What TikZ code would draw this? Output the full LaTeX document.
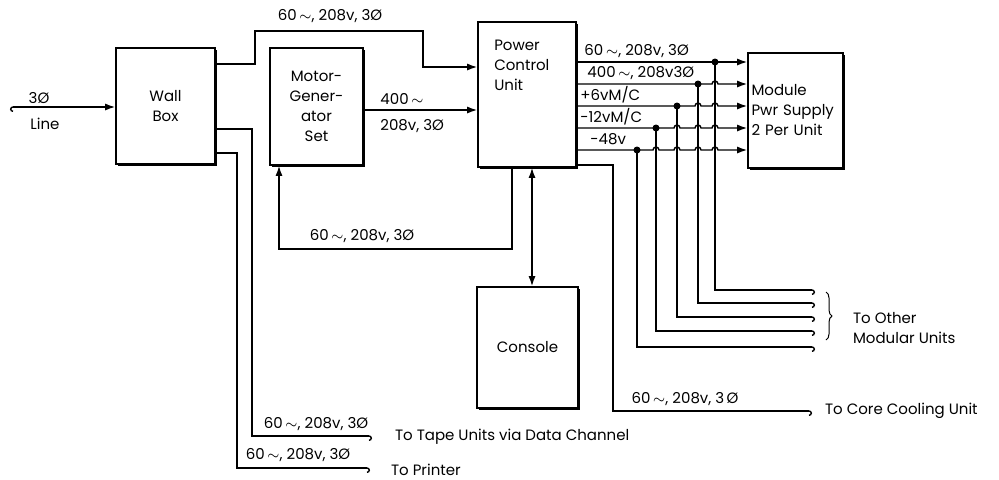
\documentclass[tikz,border=0pt]{standalone}
\usepackage{fontspec}
\setmainfont{Poppins}
\usetikzlibrary{arrows.meta, shadows, decorations.pathreplacing}
\newcommand{\threephase}{60\,$\sim$, 208v, 3Ø}
\tikzset{
  unitbox/.style={rectangle, draw, line width=0.8pt, fill=white, align=center, inner sep=1.5pt,
    drop shadow={shadow xshift=0.9pt, shadow yshift=-0.9pt, fill=black, opacity=1}},
  wire/.style={line width=0.7pt},
  feed/.style={wire, -{Latex[length=5pt, width=3.5pt]}},
  tailend/.style={wire, -{Hooks[right, length=1.5pt, width=5pt]}},
  junction/.style={circle, fill, inner sep=0pt, minimum size=3.5pt},
  rating/.style={inner sep=1pt}
}
\begin{document}
\begin{tikzpicture}[x=0.5pt, y=-0.5pt, every node/.style={font=\fontsize{7.5}{10}\selectfont}]
  \useasboundingbox (0,0) rectangle (999,479);

  % boxes
  \node[unitbox, minimum width=49.5pt, minimum height=58pt] (wall) at (165.5,106) {Wall\\Box};
  \node[unitbox, minimum width=46.5pt, minimum height=58.5pt] (mg) at (316.5,106.5) {Motor-\\Gener-\\ator\\Set};
  \node[unitbox, minimum width=49pt, minimum height=72.5pt,
    label={[anchor=north west, align=left, xshift=5pt, yshift=-6pt]north west:Power\\Control\\Unit}] (pcu) at (527,94.5) {};
  \node[unitbox, minimum width=50.5pt, minimum height=60.5pt] (console) at (527.5,347.5) {Console};
  \node[unitbox, minimum width=47.5pt, minimum height=57.5pt, text width=44pt, align=left] (mps) at (795.5,110.5) {Module\\Pwr Supply\\2 Per Unit};

  % line in
  \coordinate (line) at (10,107);
  \draw[wire, {Hooks[left, length=1.5pt, width=5pt]}-{Latex[length=5pt, width=3.5pt]}] (line) -- (wall.west |- line);
  \node[rating] (phlbl) at (39,98) {3Ø};
  \node[rating] (linelbl) at (45,124) {Line};

  % wall box feeds
  \draw[feed] (wall.east |- 0,64) -- (255,64) -- (255,31) -- (423,31) -- (423,67) -- (pcu.west |- 0,67);
  \node[rating] (toplbl) at (330,16) {\threephase};
  \draw[feed] (mg.east |- 0,110) -- (pcu.west |- 0,110);
  \node[rating, anchor=west] (mghz) at (378,99) {400\,$\sim$};
  \node[rating, anchor=west] (mgv) at (378,126) {208v, 3Ø};

  \coordinate (tape) at (372,436);
  \draw[tailend] (wall.east |- 0,129) -- (252,129) -- (252,436) -- (tape);
  \node[rating] (tapelbl) at (316,424) {\threephase};
  \node[anchor=west] (tapetxt) at (388,437) {To Tape Units via Data Channel};

  \coordinate (printer) at (370,468);
  \draw[tailend] (wall.east |- 0,153) -- (237,153) -- (237,468) -- (printer);
  \node[rating] (prtlbl) at (298,455) {\threephase};
  \node[anchor=west] (prttxt) at (384,470) {To Printer};

  % back to motor-generator, console, cooling
  \draw[feed] (pcu.south -| 512,0) -- (512,249) -- (279,249) -- (mg.south -| 279,0);
  \node[rating] (mglbl) at (362,236) {\threephase};
  \draw[wire, {Latex[length=5pt, width=3.5pt]}-{Latex[length=5pt, width=3.5pt]}] (pcu.south -| 532,0) -- (console.north -| 532,0);

  \coordinate (cooling) at (812,411);
  \draw[tailend] (pcu.east |- 0,165) -- (613,165) -- (613,411) -- (cooling);
  \node[rating] (coollbl) at (685,399) {60\,$\sim$, 208v, 3\,Ø};
  \node[anchor=west] (cooltxt) at (818,411) {To Core Cooling Unit};

  % bus to module supply
  \draw[feed] (pcu.east |- 0,62) -- (mps.west |- 0,62);
  \foreach \y/\hops in {84/{715}, 106/{698,715}, 128/{677,698,715}, 150/{656,677,698,715}}
    \draw[feed] (pcu.east |- 0,\y) foreach \h in \hops {-- (\h-3,\y) arc[start angle=180, end angle=0, radius=1.5pt]} -- (mps.west |- 0,\y);
  \node[rating, anchor=west] (bus1) at (582,51) {\threephase};
  \node[rating, anchor=west] (bus2) at (585,73) {400\,$\sim$, 208v3Ø};
  \node[rating, anchor=west] (bus3) at (578,95) {+6vM/C};
  \node[rating, anchor=west] (bus4) at (578,117) {-12vM/C};
  \node[rating, anchor=west] (bus5) at (588,139) {-48v};

  \foreach \y/\xd/\yend [count=\i] in {62/715/290, 84/698/303, 106/677/317, 128/656/331, 150/637/347} {
    \node[junction] (tap\i) at (\xd,\y) {};
    \coordinate (other\i) at (815,\yend);
    \draw[tailend] (tap\i.center) -- (\xd,\yend) -- (other\i);
  }
  \draw[decorate, decoration={brace, amplitude=3pt}, line width=0.5pt] (826,292) -- (826,340);
  \node[anchor=west, align=left] (otherstxt) at (846,328) {To Other\\Modular Units};
\end{tikzpicture}
\end{document}
